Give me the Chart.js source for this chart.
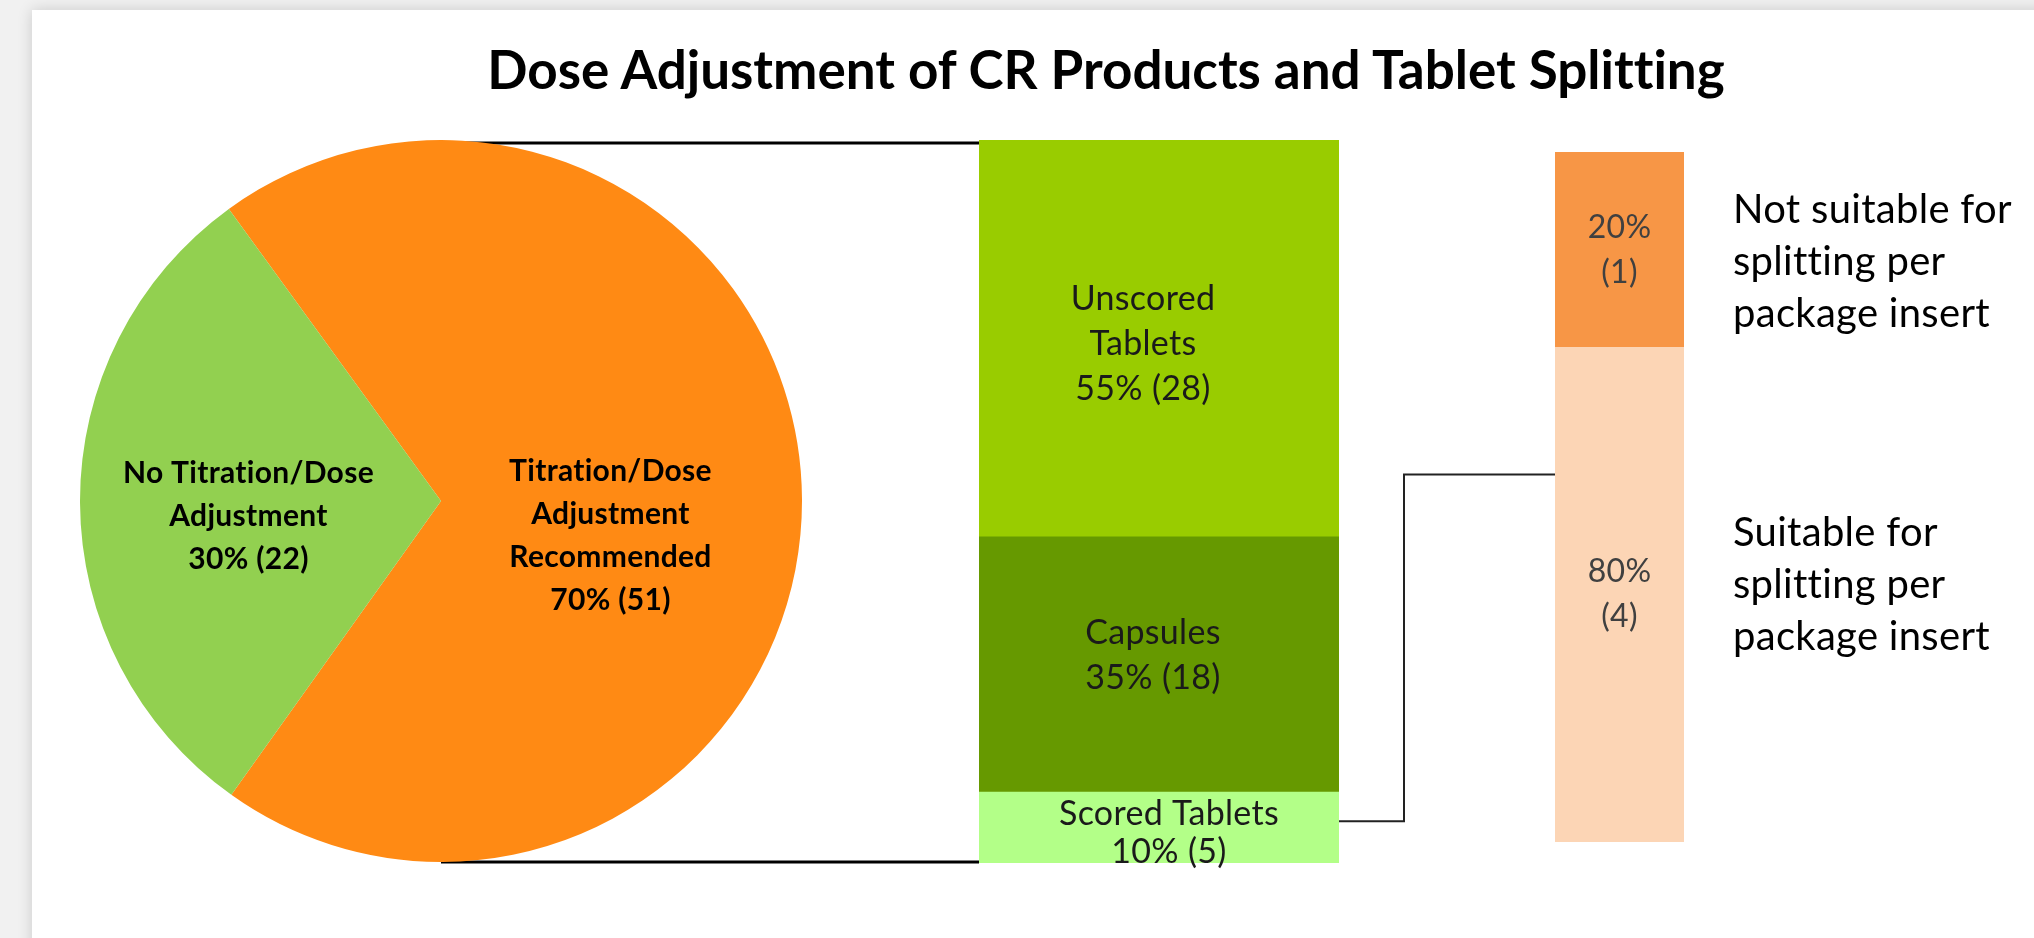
<!DOCTYPE html>
<html>
<head>
<meta charset="utf-8">
<title>Dose Adjustment of CR Products and Tablet Splitting</title>
<script src="https://cdn.jsdelivr.net/npm/chart.js@4.4.1/dist/chart.umd.min.js"></script>
<style>
  html, body { margin: 0; padding: 0; }
  body { width: 2034px; height: 938px; background: #f1f1f1; position: relative; overflow: hidden; font-family: Lato, "Open Sans", sans-serif; }
  #card { position: absolute; left: 32px; top: 10px; right: -30px; bottom: -30px; background: #fff; box-shadow: 0 0 14px rgba(0,0,0,0.16); }
  #title { position: absolute; left: 1106px; top: 37px; transform: translateX(-50%); white-space: nowrap;
           font-weight: bold; font-size: 53px; line-height: normal; color: #000; font-variant-ligatures: none; }
  #links { position: absolute; left: 0; top: 0; }
  canvas { position: absolute; }
</style>
</head>
<body>
<div id="card"></div>
<div id="title">Dose Adjustment of CR Products and Tablet Splitting</div>
<svg id="links" width="2034" height="938"></svg>
<canvas id="pie" width="722" height="722" style="left:80px; top:140px;"></canvas>
<canvas id="formBar" width="360" height="753" style="left:979px; top:140px;"></canvas>
<canvas id="splitBar" width="480" height="690" style="left:1555px; top:152px;"></canvas>
<script>
// ---- data ----
// pie: products with / without titration
var pieCategories = [["Titration/Dose", "Adjustment", "Recommended"], ["No Titration/Dose", "Adjustment"]];
var pieCounts = [51, 22];
var piePercents = ["70%", "30%"];
var pieColors = ["#FF8A14", "#92D050"];

// dosage forms of the titrated products (bottom of stack first)
var formCategories = [["Scored Tablets"], ["Capsules"], ["Unscored", "Tablets"]];
var formCounts = [5, 18, 28];
var formPercents = ["10%", "35%", "55%"];
var formColors = ["#B3FF88", "#669900", "#99CC00"];

// scored tablets split per package insert (bottom of stack first)
var splitCategories = [["Suitable for", "splitting per", "package insert"], ["Not suitable for", "splitting per", "package insert"]];
var splitCounts = [4, 1];
var splitPercents = ["80%", "20%"];
var splitHeights = [71.7, 28.3];   // segment heights as drawn in the picture
var splitColors = ["#FCD5B5", "#F79646"];

var FONT = "Lato, 'Open Sans', sans-serif";

function drawLines(ctx, lines, x, y, lineHeight) {
  var top = y - (lines.length - 1) * lineHeight / 2;
  for (var i = 0; i < lines.length; i++) {
    ctx.fillText(lines[i], x, top + i * lineHeight);
  }
}

// Lato joins "ti" into a ligature; a tiny letter spacing keeps the letters apart
function noLigatures(ctx) {
  if ("letterSpacing" in ctx) { ctx.letterSpacing = "0.3px"; }
}

// labels inside the pie slices
var pieLabelPlugin = {
  id: "pieLabels",
  afterDatasetsDraw: function (chart) {
    var ctx = chart.ctx;
    var nudge = [{ dx: -11, dy: 36 }, { dx: -12, dy: 15 }];
    ctx.save();
    noLigatures(ctx);
    ctx.font = "bold 30px " + FONT;
    ctx.fillStyle = "#000";
    ctx.textAlign = "center";
    ctx.textBaseline = "middle";
    chart.getDatasetMeta(0).data.forEach(function (arc, i) {
      var p = arc.tooltipPosition();
      var lines = pieCategories[i].concat([piePercents[i] + " (" + pieCounts[i] + ")"]);
      drawLines(ctx, lines, p.x + nudge[i].dx, p.y + nudge[i].dy, 43);
    });
    ctx.restore();
  }
};

// labels inside the stacked bar segments (and optional text to the right)
function barLabelPlugin(id, opts) {
  return {
    id: id,
    afterDatasetsDraw: function (chart) {
      var ctx = chart.ctx;
      ctx.save();
      noLigatures(ctx);
      ctx.textBaseline = "middle";
      chart.data.datasets.forEach(function (ds, i) {
        var bar = chart.getDatasetMeta(i).data[0];
        var cy = (bar.y + bar.base) / 2;
        var n = opts.nudge[i];
        ctx.font = opts.font;
        ctx.fillStyle = opts.color;
        ctx.textAlign = "center";
        drawLines(ctx, opts.inner[i], bar.x + n.dx, cy + n.dy, n.lh || opts.lineHeight);
        if (opts.side) {
          ctx.font = opts.sideFont;
          ctx.fillStyle = "#000";
          ctx.textAlign = "left";
          drawLines(ctx, opts.side[i], bar.x + bar.width / 2 + 49, cy + opts.sideNudge[i], 52);
        }
      });
      ctx.restore();
    }
  };
}

var common = {
  responsive: false,
  animation: false,
  devicePixelRatio: 1,
  plugins: { legend: { display: false }, tooltip: { enabled: false } }
};

var pieChart = new Chart(document.getElementById("pie"), {
  type: "pie",
  data: {
    labels: pieCategories,
    datasets: [{ data: pieCounts, backgroundColor: pieColors, borderWidth: 0 }]
  },
  options: Object.assign({}, common, { rotation: -36, layout: { padding: 0 } }),
  plugins: [pieLabelPlugin]
});

function stackOptions(total, padRight, padBottom) {
  return Object.assign({}, common, {
    layout: { padding: { left: 0, right: padRight, top: 0, bottom: padBottom } },
    scales: {
      x: { display: false, stacked: true },
      y: { display: false, stacked: true, min: 0, max: total }
    }
  });
}

var formChart = new Chart(document.getElementById("formBar"), {
  type: "bar",
  data: {
    labels: ["Dosage form"],
    datasets: formCategories.map(function (c, i) {
      return { label: c.join(" "), data: [formCounts[i]], backgroundColor: formColors[i],
               barPercentage: 1, categoryPercentage: 1, borderWidth: 0 };
    })
  },
  // extra room under the bar so the last label line is not cut off
  options: stackOptions(formCounts.reduce(function (a, b) { return a + b; }, 0), 0, 30),
  plugins: [barLabelPlugin("formLabels", {
    font: "34px " + FONT, color: "#1a1a1a", lineHeight: 45,
    inner: formCategories.map(function (c, i) { return c.concat([formPercents[i] + " (" + formCounts[i] + ")"]); }),
    nudge: [{ dx: 10, dy: 5, lh: 38 }, { dx: -6, dy: -9 }, { dx: -16, dy: 6 }]
  })]
});

var splitChart = new Chart(document.getElementById("splitBar"), {
  type: "bar",
  data: {
    labels: ["Scored tablets"],
    datasets: splitCategories.map(function (c, i) {
      return { label: c.join(" "), data: [splitHeights[i]], backgroundColor: splitColors[i],
               barPercentage: 1, categoryPercentage: 1, borderWidth: 0 };
    })
  },
  options: stackOptions(100, 351, 0),
  plugins: [barLabelPlugin("splitLabels", {
    font: "32px " + FONT, color: "#404040", lineHeight: 45,
    inner: splitPercents.map(function (p, i) { return [p, "(" + splitCounts[i] + ")"]; }),
    nudge: [{ dx: 0, dy: 0 }, { dx: 0, dy: 1 }],
    side: splitCategories, sideFont: "40px " + FONT, sideNudge: [-10, 12]
  })]
});

// connector lines between the three parts, placed from the charts' own elements
(function () {
  var svg = document.getElementById("links");
  function off(chart) { return { x: chart.canvas.offsetLeft, y: chart.canvas.offsetTop }; }
  function line(points, width, color) {
    var el = document.createElementNS("http://www.w3.org/2000/svg", "polyline");
    el.setAttribute("points", points.map(function (p) { return p[0] + "," + p[1]; }).join(" "));
    el.setAttribute("fill", "none");
    el.setAttribute("stroke", color);
    el.setAttribute("stroke-width", width);
    svg.appendChild(el);
  }

  var po = off(pieChart), arc = pieChart.getDatasetMeta(0).data[0];
  var pieCx = po.x + arc.x, pieTop = po.y + arc.y - arc.outerRadius, pieBottom = po.y + arc.y + arc.outerRadius;

  var fo = off(formChart);
  var scored = formChart.getDatasetMeta(0).data[0];
  var unscored = formChart.getDatasetMeta(2).data[0];
  var formLeft = fo.x + scored.x - scored.width / 2, formRight = fo.x + scored.x + scored.width / 2;
  var formTop = fo.y + unscored.y, formBottom = fo.y + scored.base;

  line([[pieCx, pieTop + 3], [formLeft, formTop + 3]], 3, "#000");
  line([[pieCx, pieBottom], [formLeft, formBottom - 1]], 3, "#000");

  var so = off(splitChart);
  var suitable = splitChart.getDatasetMeta(0).data[0];
  var splitLeft = so.x + suitable.x - suitable.width / 2;
  var fromY = fo.y + scored.y + (scored.base - scored.y) * 0.41;
  var toY = so.y + suitable.y + (suitable.base - suitable.y) * 0.257;
  var elbowX = formRight + 65;
  line([[formRight, fromY], [elbowX, fromY], [elbowX, toY], [splitLeft, toY]], 2, "#222");
})();
</script>
</body>
</html>
